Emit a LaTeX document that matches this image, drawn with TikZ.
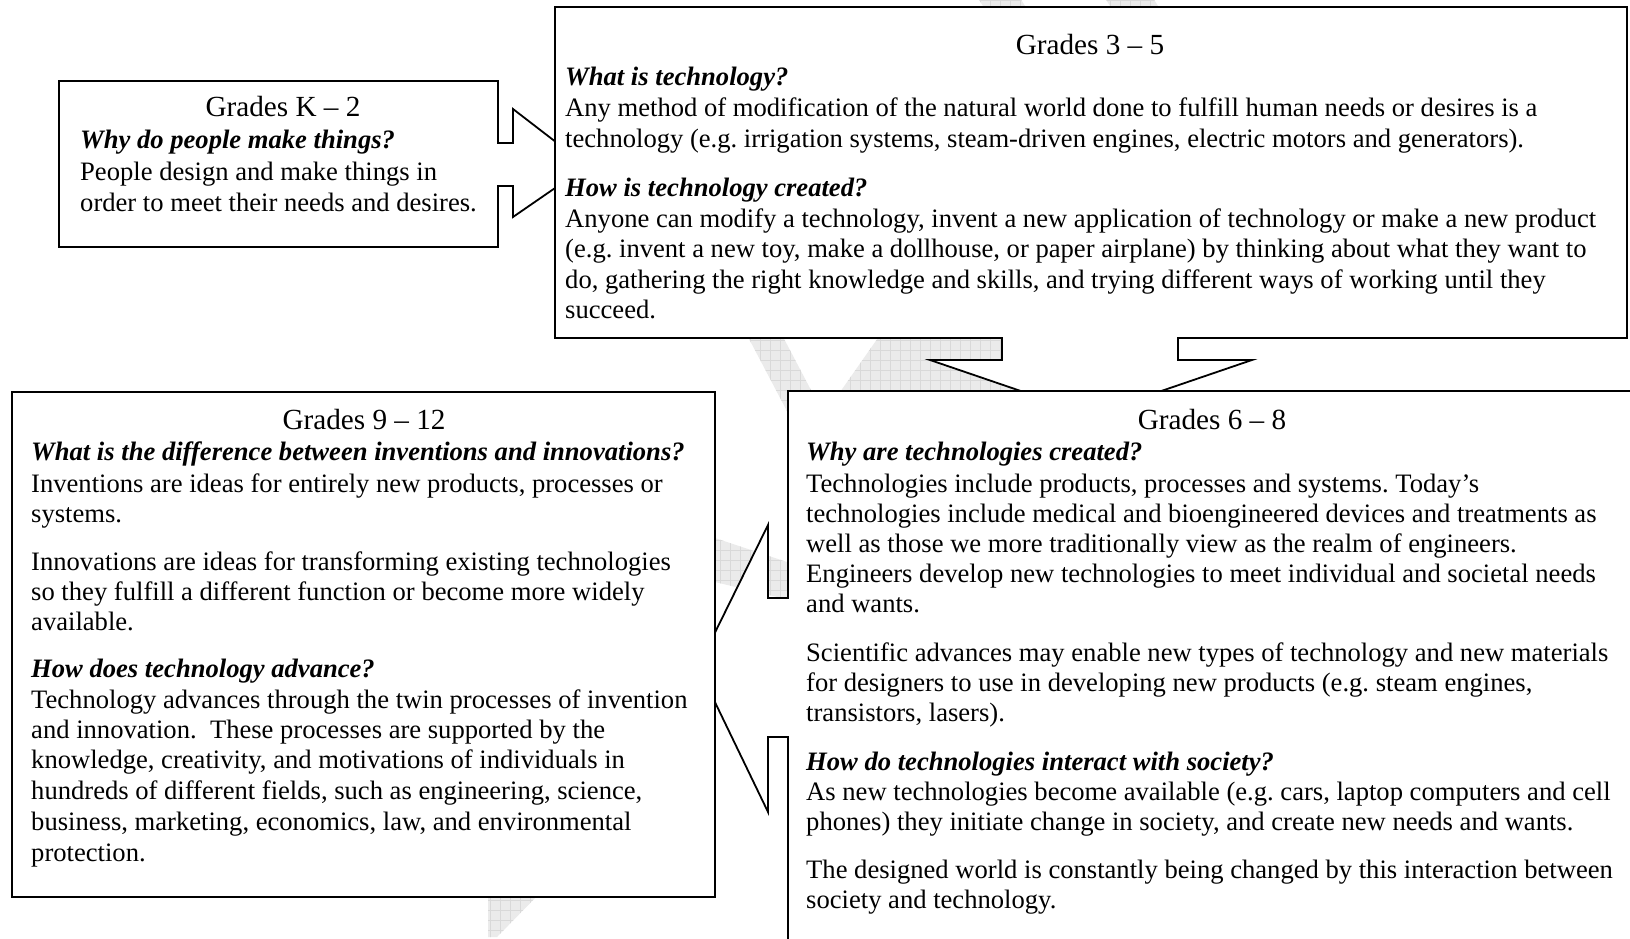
\documentclass[tikz,border=0pt]{standalone}
\usepackage{fontspec}
\setmainfont{Liberation Serif}
\frenchspacing
\begin{document}
\begin{tikzpicture}[x=1pt,y=-1pt,
  box/.style={draw=black,line width=1.8pt,fill=white,line join=miter},
  txt/.style={inner sep=0pt,anchor=base west,font=\fontsize{26.6}{30.5}\selectfont},
  ttl/.style={inner sep=0pt,anchor=base,font=\fontsize{29.2}{33}\selectfont},
  qst/.style={inner sep=0pt,anchor=base west,font=\fontsize{26.6}{30.5}\selectfont\bfseries\itshape},
  wm/.style={fill=black!8},
  wmgrid/.style={draw=black!15,line width=0.5pt}]
\useasboundingbox (0,0) rectangle (1630,939);
\clip (0,0) rectangle (1630,939);
\fill[white] (0,0) rectangle (1630,939);
% faint watermark
\begin{scope}
 \clip (978,-2) -- (1020,-2) -- (1030,14) -- (988,14) -- cycle
       (1105,-2) -- (1153,-2) -- (1163,14) -- (1115,14) -- cycle
       (747,335) -- (782,335) -- (823,413) -- (788,413) -- cycle
       (838,395) -- (880,335) -- (1010,335) -- (1030,395) -- cycle
       (715,538) -- (790,563) -- (790,600) -- (715,582) -- cycle
       (488,893) -- (540,893) -- (497,937) -- (488,937) -- cycle;
 \fill[wm] (0,0) rectangle (1630,939);
 \draw[wmgrid,step=10pt] (0,0) grid (1630,939);
\end{scope}
% Grades K-2 callout
\draw[box] (59,81) -- (498,81) -- (498,143) -- (513,143) -- (513,109) -- (587,166)
  -- (513,217) -- (513,186) -- (498,186) -- (498,247) -- (59,247) -- cycle;
% Grades 3-5 callout
\draw[box] (555,7) -- (1627,7) -- (1627,338) -- (1178,338) -- (1178,360) -- (1252,360)
  -- (1091,415) -- (930,360) -- (1002,360) -- (1002,338) -- (555,338) -- cycle;
% Grades 6-8 callout
\draw[box] (788,391) -- (1650,391) -- (1650,960) -- (788,960) -- (788,737) -- (768,737)
  -- (768,812) -- (698,667) -- (768,525) -- (768,598) -- (788,598) -- cycle;
% Grades 9-12 box
\draw[box] (12,392) rectangle (715,897);
% Texts K-2
\node[ttl] (k2t) at (283,117) {Grades K – 2};
\node[qst] (k2q) at (80,149) {Why do people make things?};
\node[txt] (k2a) at (80,180) {People design and make things in};
\node[txt] (k2b) at (80,211) {order to meet their needs and desires.};
% Texts 3-5
\node[ttl] (g35t) at (1090,55) {Grades 3 – 5};
\node[qst] (g35q1) at (565,86) {What is technology?};
\node[txt] (g35a) at (565,117) {Any method of modification of the natural world done to fulfill human needs or desires is a};
\node[txt] (g35b) at (565,148) {technology (e.g. irrigation systems, steam-driven engines, electric motors and generators).};
\node[qst] (g35q2) at (565,196) {How is technology created?};
\node[txt] (g35c) at (565,227) {Anyone can modify a technology, invent a new application of technology or make a new product};
\node[txt] (g35d) at (565,257.5) {(e.g. invent a new toy, make a dollhouse, or paper airplane) by thinking about what they want to};
\node[txt] (g35e) at (565,288) {do, gathering the right knowledge and skills, and trying different ways of working until they};
\node[txt] (g35f) at (565,318.5) {succeed.};
% Texts 9-12
\node[ttl] (g912t) at (364,429) {Grades 9 – 12};
\node[qst] (g912q1) at (31,460) {What is the difference between inventions and innovations?};
\node[txt] (g912a) at (31,492) {Inventions are ideas for entirely new products, processes or};
\node[txt] (g912b) at (31,522) {systems.};
\node[txt] (g912c) at (31,570) {Innovations are ideas for transforming existing technologies};
\node[txt] (g912d) at (31,600) {so they fulfill a different function or become more widely};
\node[txt] (g912e) at (31,630) {available.};
\node[qst] (g912q2) at (31,677) {How does technology advance?};
\node[txt] (g912f) at (31,708) {Technology advances through the twin processes of invention};
\node[txt] (g912g) at (31,738) {and innovation.\ \ These processes are supported by the};
\node[txt] (g912h) at (31,768) {knowledge, creativity, and motivations of individuals in};
\node[txt] (g912i) at (31,799) {hundreds of different fields, such as engineering, science,};
\node[txt] (g912j) at (31,830) {business, marketing, economics, law, and environmental};
\node[txt] (g912k) at (31,861) {protection.};
% Texts 6-8
\node[ttl] (g68t) at (1212,429) {Grades 6 – 8};
\node[qst] (g68q1) at (806,460) {Why are technologies created?};
\node[txt] (g68a) at (806,492) {Technologies include products, processes and systems. Today’s};
\node[txt] (g68b) at (806,522) {technologies include medical and bioengineered devices and treatments as};
\node[txt] (g68c) at (806,552) {well as those we more traditionally view as the realm of engineers.};
\node[txt] (g68d) at (806,582) {Engineers develop new technologies to meet individual and societal needs};
\node[txt] (g68e) at (806,612) {and wants.};
\node[txt] (g68f) at (806,661) {Scientific advances may enable new types of technology and new materials};
\node[txt] (g68g) at (806,691) {for designers to use in developing new products (e.g. steam engines,};
\node[txt] (g68h) at (806,721) {transistors, lasers).};
\node[qst] (g68q2) at (806,770) {How do technologies interact with society?};
\node[txt] (g68i) at (806,800) {As new technologies become available (e.g. cars, laptop computers and cell};
\node[txt] (g68j) at (806,830) {phones) they initiate change in society, and create new needs and wants.};
\node[txt] (g68k) at (806,878) {The designed world is constantly being changed by this interaction between};
\node[txt] (g68l) at (806,908) {society and technology.};
\end{tikzpicture}
\end{document}
